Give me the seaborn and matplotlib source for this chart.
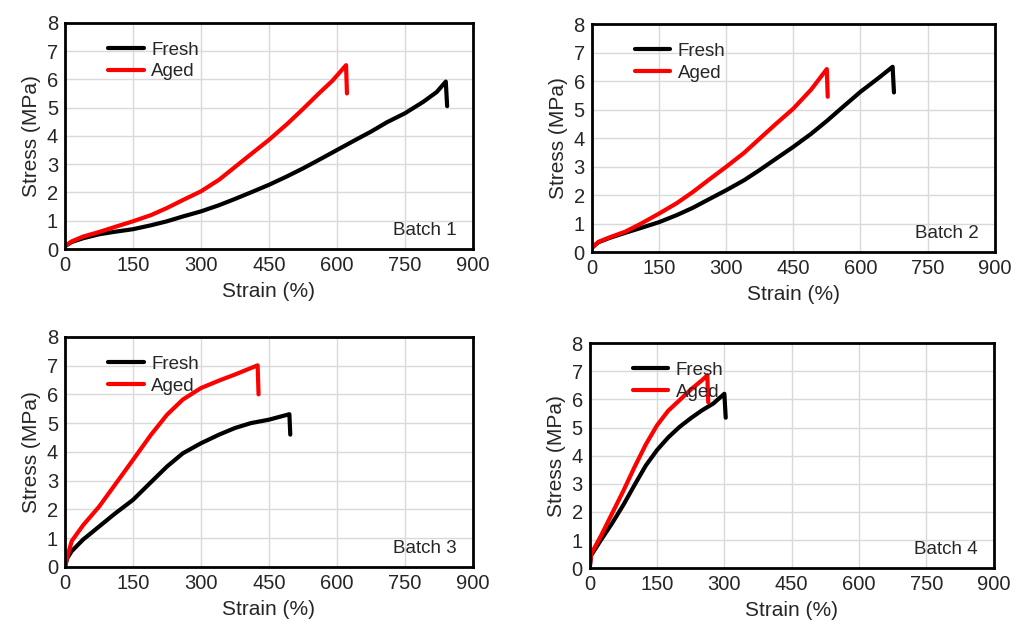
import seaborn as sns
import matplotlib.pyplot as plt
import pandas as pd

# strain (%) / stress (MPa), last point = failure drop
b1_fresh_x = [0, 15, 40, 75, 110, 150, 190, 225, 260, 300, 340, 375, 410, 450, 490,
              525, 560, 600, 640, 675, 710, 750, 790, 820, 840, 843]
b1_fresh_y = [0.1, 0.25, 0.38, 0.52, 0.61, 0.7, 0.84, 0.98, 1.15, 1.33, 1.55, 1.77, 2.0,
              2.27, 2.57, 2.85, 3.15, 3.5, 3.85, 4.15, 4.48, 4.8, 5.2, 5.55, 5.92, 5.05]
b1_aged_x = [0, 15, 40, 75, 110, 150, 190, 225, 260, 300, 340, 375, 410, 450, 490, 525,
             560, 590, 620, 622]
b1_aged_y = [0.1, 0.27, 0.44, 0.6, 0.78, 0.98, 1.2, 1.45, 1.73, 2.04, 2.45, 2.9, 3.35,
             3.86, 4.42, 4.95, 5.5, 5.95, 6.5, 5.5]

b2_fresh_x = [0, 15, 40, 75, 110, 150, 190, 225, 260, 300, 340, 375, 410, 450, 490,
              525, 560, 600, 640, 672, 675]
b2_fresh_y = [0.15, 0.35, 0.5, 0.68, 0.85, 1.05, 1.3, 1.55, 1.84, 2.17, 2.52, 2.88, 3.26,
              3.69, 4.15, 4.6, 5.08, 5.62, 6.1, 6.5, 5.6]
b2_aged_x = [0, 15, 40, 75, 110, 150, 190, 225, 260, 300, 340, 375, 410, 450, 490, 525, 527]
b2_aged_y = [0.15, 0.36, 0.52, 0.72, 1.0, 1.35, 1.72, 2.1, 2.52, 2.99, 3.48, 3.98, 4.48,
             5.03, 5.7, 6.42, 5.45]

b3_fresh_x = [0, 5, 15, 40, 75, 110, 150, 190, 225, 260, 300, 340, 375, 410, 450, 495, 497]
b3_fresh_y = [0.0, 0.3, 0.55, 0.95, 1.4, 1.85, 2.33, 2.95, 3.49, 3.95, 4.3, 4.6, 4.83,
              5.0, 5.12, 5.31, 4.6]
b3_aged_x = [0, 5, 15, 40, 75, 110, 150, 190, 225, 260, 300, 340, 375, 400, 425, 427]
b3_aged_y = [0.0, 0.35, 0.9, 1.45, 2.09, 2.85, 3.72, 4.6, 5.29, 5.82, 6.22, 6.48, 6.69,
             6.85, 7.01, 6.0]

b4_fresh_x = [0, 3, 25, 50, 75, 100, 125, 150, 175, 200, 225, 250, 275, 300, 303]
b4_fresh_y = [0.0, 0.45, 1.0, 1.6, 2.25, 2.96, 3.65, 4.2, 4.65, 5.02, 5.33, 5.61, 5.85,
              6.2, 5.35]
b4_aged_x = [0, 3, 25, 50, 75, 100, 125, 150, 175, 200, 225, 250, 262, 264]
b4_aged_y = [0.0, 0.5, 1.15, 1.95, 2.75, 3.6, 4.4, 5.08, 5.6, 5.97, 6.35, 6.68, 6.86, 5.9]

batches = ["Batch 1", "Batch 2", "Batch 3", "Batch 4"]
curves = [
    (b1_fresh_x, b1_fresh_y, b1_aged_x, b1_aged_y),
    (b2_fresh_x, b2_fresh_y, b2_aged_x, b2_aged_y),
    (b3_fresh_x, b3_fresh_y, b3_aged_x, b3_aged_y),
    (b4_fresh_x, b4_fresh_y, b4_aged_x, b4_aged_y),
]
x_ticks = [0, 150, 300, 450, 600, 750, 900]
y_ticks = [0, 1, 2, 3, 4, 5, 6, 7, 8]

sns.set_style("whitegrid", {"grid.color": "#d9d9d9", "axes.edgecolor": "black"})
plt.rcParams["font.family"] = ["Liberation Sans", "DejaVu Sans"]

fig = plt.figure(figsize=(10.15, 6.32), dpi=100)
boxes = [
    [0.064, 0.606, 0.402, 0.358],
    [0.583, 0.601, 0.397, 0.361],
    [0.064, 0.103, 0.402, 0.364],
    [0.581, 0.101, 0.398, 0.356],
]

for box, name, (fx, fy, ax_, ay) in zip(boxes, batches, curves):
    ax = fig.add_axes(box)
    df = pd.concat([
        pd.DataFrame({"Strain": fx, "Stress": fy, "Sample": "Fresh"}),
        pd.DataFrame({"Strain": ax_, "Stress": ay, "Sample": "Aged"}),
    ])
    sns.lineplot(data=df, x="Strain", y="Stress", hue="Sample", sort=False,
                 palette={"Fresh": "black", "Aged": "#ff0000"}, linewidth=3,
                 estimator=None, ax=ax)
    for ln in ax.get_lines():
        ln.set_solid_joinstyle("round")
    ax.set_xlim(0, 900)
    ax.set_ylim(0, 8)
    ax.set_xticks(x_ticks)
    ax.set_yticks(y_ticks)
    ax.tick_params(labelsize=14.5, length=0, pad=5)
    ax.set_xlabel("Strain (%)", fontsize=15, labelpad=5)
    ax.set_ylabel("Stress (MPa)", fontsize=15, labelpad=4)
    for s in ax.spines.values():
        s.set_linewidth(2)
        s.set_color("black")
    ax.grid(True, linewidth=1)
    ax.legend(loc="upper left", frameon=False, fontsize=13.5, handlelength=1.9,
              handletextpad=0.4, labelspacing=0.25, borderaxespad=0.6,
              bbox_to_anchor=(0.06, 1.0), title=None)
    ax.text(0.96, 0.045, name, transform=ax.transAxes, ha="right", va="bottom",
            fontsize=13.5)

fig.savefig("out.png", dpi=100)
